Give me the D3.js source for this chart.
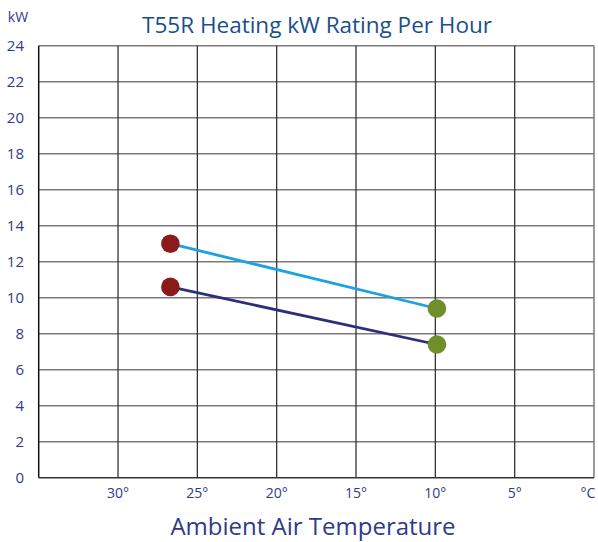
<!DOCTYPE html>
<html><head><meta charset="utf-8">
<script src="https://cdn.jsdelivr.net/npm/d3@7"></script>
<style>body{margin:0;background:#fff;} text{font-family:"Open Sans","Noto Sans",sans-serif;}</style>
</head><body>
<script>
const title = "T55R Heating kW Rating Per Hour";
const xTitle = "Ambient Air Temperature";
const yUnit = "kW";
const xTicks = [30, 25, 20, 15, 10, 5];
const yTicks = [0, 2, 4, 6, 8, 10, 12, 14, 16, 18, 20, 22, 24];
const temps = [26.7, 9.9];
const seriesUpper = [13.0, 9.4];
const seriesLower = [10.6, 7.4];
const lineColors = ["#1aa3e0", "#2b2f7e"];
const dotColors = ["#8b1a1a", "#6e8f2a"];

const W = 598, H = 542;
const svg = d3.select("body").append("svg").attr("width", W).attr("height", H);
const x = d3.scaleLinear().domain([35, 0]).range([38.7, 594]);
const y = d3.scaleLinear().domain([0, 24]).range([477.7, 45.7]);

svg.append("g").selectAll("line").data(yTicks.filter(d => d > 0)).join("line")
  .attr("x1", x(35)).attr("x2", x(0)).attr("y1", d => y(d)).attr("y2", d => y(d))
  .attr("stroke", "#7a7a7a").attr("stroke-width", 1.5);
svg.append("g").selectAll("line").data(xTicks).join("line")
  .attr("x1", d => x(d)).attr("x2", d => x(d)).attr("y1", y(24)).attr("y2", y(0))
  .attr("stroke", "#333").attr("stroke-width", 1.3);
svg.append("line").attr("x1", x(0)).attr("x2", x(0)).attr("y1", y(24)).attr("y2", y(0))
  .attr("stroke", "#7a7a7a").attr("stroke-width", 1.5);
svg.append("line").attr("x1", x(35)).attr("x2", x(35)).attr("y1", y(24)).attr("y2", y(0))
  .attr("stroke", "#111").attr("stroke-width", 1.5);
svg.append("line").attr("x1", x(35)).attr("x2", x(0)).attr("y1", y(0)).attr("y2", y(0))
  .attr("stroke", "#333").attr("stroke-width", 1.5);

const labColor = "#2e3a8c";
svg.append("g").selectAll("text").data(yTicks).join("text")
  .attr("x", 24).attr("y", d => y(d)).attr("dy", "0.35em").attr("text-anchor", "end")
  .attr("fill", labColor).attr("font-size", 15).text(d => d);
svg.append("text").attr("x", 18).attr("y", 22).attr("text-anchor", "middle")
  .attr("fill", labColor).attr("font-size", 14).text(yUnit);
svg.append("g").selectAll("text").data(xTicks).join("text")
  .attr("x", d => x(d)).attr("y", 498).attr("text-anchor", "middle")
  .attr("fill", labColor).attr("font-size", 14).text(d => d + "°");
svg.append("text").attr("x", x(0) - 6).attr("y", 498).attr("text-anchor", "middle")
  .attr("fill", labColor).attr("font-size", 14).text("°C");

svg.append("text").attr("x", 317).attr("y", 33).attr("text-anchor", "middle")
  .attr("fill", "#1a4f8c").attr("font-size", 22.5).text(title);
svg.append("text").attr("x", 313).attr("y", 535).attr("text-anchor", "middle")
  .attr("fill", labColor).attr("font-size", 24).text(xTitle);

const line = d3.line().x(d => x(d[0])).y(d => y(d[1]));
[seriesUpper, seriesLower].forEach((s, i) => {
  const pts = temps.map((t, j) => [t, s[j]]);
  svg.append("path").attr("d", line(pts)).attr("fill", "none")
    .attr("stroke", lineColors[i]).attr("stroke-width", 2.8);
});
[seriesUpper, seriesLower].forEach(s => {
  svg.append("g").selectAll("circle").data(temps.map((t, j) => [t, s[j]])).join("circle")
    .attr("cx", d => x(d[0])).attr("cy", d => y(d[1])).attr("r", 9.3)
    .attr("fill", (d, j) => dotColors[j]);
});
</script>
</body></html>
